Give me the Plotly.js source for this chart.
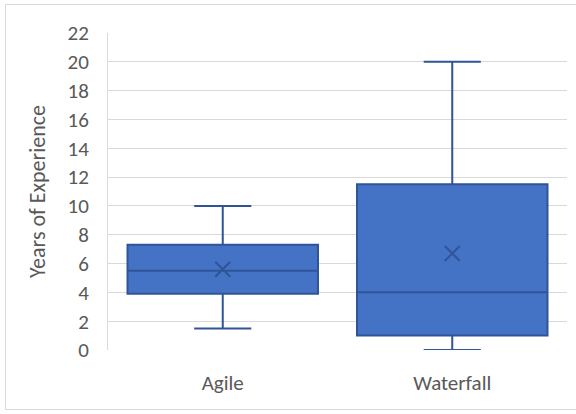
<!DOCTYPE html>
<html>
<head>
<meta charset="utf-8">
<script src="https://cdn.plot.ly/plotly-3.0.1.min.js"></script>
<style>
html,body{margin:0;padding:0;background:#fff;}
#frame{position:absolute;left:5px;top:4px;width:600px;height:406px;border:1px solid #d9d9d9;box-sizing:border-box;}
#chart{position:absolute;left:0;top:0;width:576px;height:414px;}
</style>
</head>
<body>
<div id="frame"></div>
<div id="chart"></div>
<script>
var categories = ["Agile", "Waterfall"];
var lowerWhisker = [1.5, 0];
var q1Values = [3.9, 1.0];
var medianValues = [5.5, 4.0];
var q3Values = [7.3, 11.5];
var upperWhisker = [10, 20];
var meanValues = [5.6, 6.7];
var yTicks = [0, 2, 4, 6, 8, 10, 12, 14, 16, 18, 20, 22];

var font = "Calibri, Carlito, Lato, sans-serif";

var boxTrace = {
  type: "box",
  x: categories,
  q1: q1Values,
  median: medianValues,
  q3: q3Values,
  lowerfence: lowerWhisker,
  upperfence: upperWhisker,
  width: 0.83,
  fillcolor: "#4472C4",
  line: {color: "#2F5597", width: 2},
  whiskerwidth: 0.3,
  boxpoints: false,
  hoverinfo: "skip",
  showlegend: false
};

var meanTrace = {
  type: "scatter",
  mode: "markers",
  x: categories,
  y: meanValues,
  marker: {symbol: "x-thin-open", size: 15, color: "#2F5597", line: {color: "#2F5597", width: 2}},
  hoverinfo: "skip",
  showlegend: false
};

var layout = {
  width: 576,
  height: 414,
  margin: {l: 108, r: 9, t: 33, b: 64},
  paper_bgcolor: "rgba(0,0,0,0)",
  plot_bgcolor: "#fff",
  font: {family: font, color: "#595959", size: 21},
  xaxis: {
    type: "category",
    range: [-0.5, 1.5],
    showgrid: false,
    zeroline: false,
    showline: false,
    ticks: "outside",
    ticklen: 14,
    tickcolor: "rgba(0,0,0,0)",
    tickfont: {family: font, size: 21, color: "#595959"}
  },
  yaxis: {
    range: [0, 22],
    tickvals: yTicks,
    ticktext: yTicks.map(String),
    showgrid: true,
    gridcolor: "#d9d9d9",
    gridwidth: 1,
    zeroline: false,
    showline: true,
    linecolor: "#d9d9d9",
    linewidth: 1,
    ticks: "outside",
    ticklen: 14,
    tickcolor: "rgba(0,0,0,0)",
    tickfont: {family: font, size: 21, color: "#595959"},
    title: {text: "Years of Experience", font: {family: font, size: 22, color: "#595959"}, standoff: 15}
  }
};

Plotly.newPlot("chart", [boxTrace, meanTrace], layout, {displayModeBar: false, staticPlot: true});
</script>
</body>
</html>
